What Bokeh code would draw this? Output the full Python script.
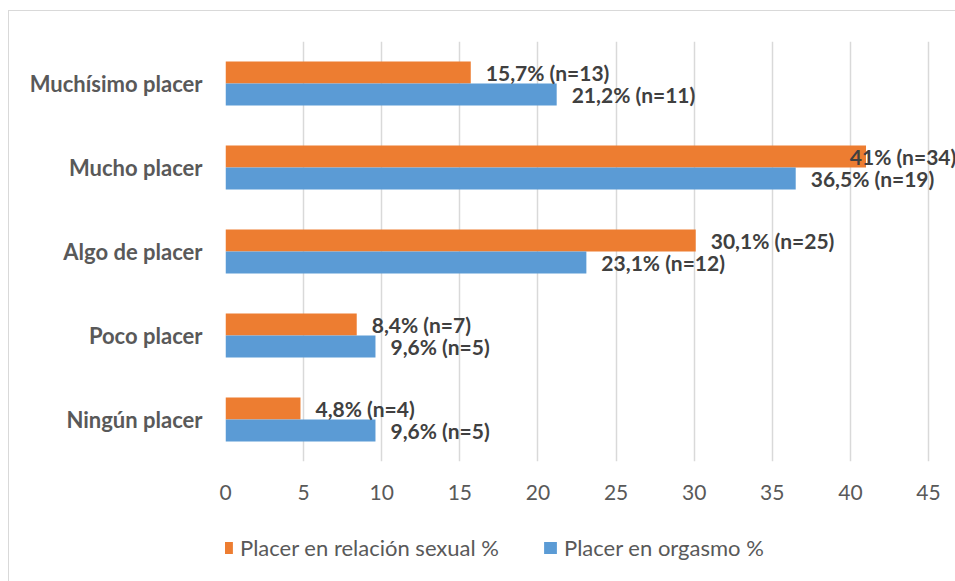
from bokeh.plotting import figure
from bokeh.layouts import column
from bokeh.models import Range1d, FactorRange, FixedTicker, Legend, LegendItem, ColumnDataSource
from bokeh.transform import dodge
from bokeh.core.properties import value
from bokeh.embed import file_html
from bokeh.resources import INLINE

# ---- data ----
categories = ["Muchísimo placer", "Mucho placer", "Algo de placer", "Poco placer", "Ningún placer"]
sexual_pct = [15.7, 41, 30.1, 8.4, 4.8]
sexual_n = [13, 34, 25, 7, 4]
orgasm_pct = [21.2, 36.5, 23.1, 9.6, 9.6]
orgasm_n = [11, 19, 12, 5, 5]
series_names = ["Placer en relación sexual %", "Placer en orgasmo %"]
x_ticks = [0, 5, 10, 15, 20, 25, 30, 35, 40, 45]

ORANGE = "#ED7D31"
BLUE = "#5B9BD5"
FONT = "Lato"
LABEL_MAX = 39          # data labels are kept inside the chart area
AXIS_MAX = 45
FRAME_PX = 730          # frame width in px
AXIS_PX = 703           # px from 0 to AXIS_MAX
W = 216 + FRAME_PX


def fmt(v, n):
    return f"{v:g}".replace(".", ",") + f"% (n={n})"


src = ColumnDataSource(dict(
    cat=categories,
    sex=sexual_pct,
    org=orgasm_pct,
    sex_lx=[min(v, LABEL_MAX) for v in sexual_pct],
    org_lx=[min(v, LABEL_MAX) for v in orgasm_pct],
    sex_lbl=[fmt(v, n) for v, n in zip(sexual_pct, sexual_n)],
    org_lbl=[fmt(v, n) for v, n in zip(orgasm_pct, orgasm_n)],
))

p = figure(width=W, height=500,
           y_range=FactorRange(*reversed(categories), range_padding=0),
           x_range=Range1d(0, AXIS_MAX * FRAME_PX / AXIS_PX),
           output_backend="svg", toolbar_location=None,
           min_border_left=216, min_border_right=0, min_border_top=30, min_border_bottom=50)
p.outline_line_color = None
p.background_fill_color = "white"
p.border_fill_color = "white"

bh = 0.262
r1 = p.hbar(y=dodge("cat", bh / 2, range=p.y_range), left=0, right="sex", height=bh,
            color=ORANGE, line_color=None, source=src)
r2 = p.hbar(y=dodge("cat", -bh / 2, range=p.y_range), left=0, right="org", height=bh,
            color=BLUE, line_color=None, source=src)

lbl_style = dict(x_offset=15, text_align="left", text_baseline="middle",
                 text_font=value(FONT), text_font_style="bold", text_font_size="21px",
                 text_color="#404040", source=src)
p.text(x="sex_lx", y=dodge("cat", bh / 2, range=p.y_range), text="sex_lbl", **lbl_style)
p.text(x="org_lx", y=dodge("cat", -bh / 2, range=p.y_range), text="org_lbl", **lbl_style)

# axes
p.xaxis.ticker = FixedTicker(ticks=x_ticks)
p.xaxis.axis_line_color = None
p.xaxis.major_tick_line_color = None
p.xaxis.major_tick_out = 0
p.xaxis.major_tick_in = 0
p.xaxis.minor_tick_line_color = None
p.xaxis.major_label_text_font = FONT
p.xaxis.major_label_text_font_size = "21px"
p.xaxis.major_label_text_color = "#595959"
p.xaxis.major_label_standoff = 23

p.yaxis.axis_line_color = None
p.yaxis.major_tick_line_color = None
p.yaxis.major_tick_out = 0
p.yaxis.major_tick_in = 0
p.yaxis.major_label_text_font = FONT
p.yaxis.major_label_text_font_style = "bold"
p.yaxis.major_label_text_font_size = "22px"
p.yaxis.major_label_text_color = "#595959"
p.yaxis.major_label_standoff = 23

p.xgrid.grid_line_color = "#d9d9d9"
p.xgrid.grid_line_width = 1.5
p.ygrid.grid_line_color = None

# ---- legend strip under the chart (frames of the column are aligned) ----
lf = figure(width=W, height=70, x_range=Range1d(0, 1), y_range=Range1d(0, 1),
            output_backend="svg", toolbar_location=None, min_border=0)
lf.axis.visible = False
lf.grid.visible = False
lf.outline_line_color = None
lf.border_fill_color = "white"
# zero-size swatch renderers used only for the legend
d1 = lf.hbar(y=[0], left=[0], right=[0], height=0, color=ORANGE, line_color=None)
d2 = lf.hbar(y=[0], left=[0], right=[0], height=0, color=BLUE, line_color=None)
legend = Legend(items=[LegendItem(label=series_names[0], renderers=[d1]),
                       LegendItem(label=series_names[1], renderers=[d2])],
                orientation="horizontal", location=(-7, 20),
                glyph_width=16, glyph_height=15, spacing=43, label_standoff=6,
                padding=0, margin=0, border_line_color=None, background_fill_alpha=0,
                label_text_font=FONT, label_text_font_size="22px", label_text_color="#595959")
lf.add_layout(legend, "center")

layout = column(p, lf, spacing=0)
layout.styles = {"margin-left": "8px", "margin-top": "10px",
                 "border-left": "1px solid #d9d9d9", "border-top": "1px solid #d9d9d9"}

open("out.html", "w").write(file_html(layout, INLINE))
